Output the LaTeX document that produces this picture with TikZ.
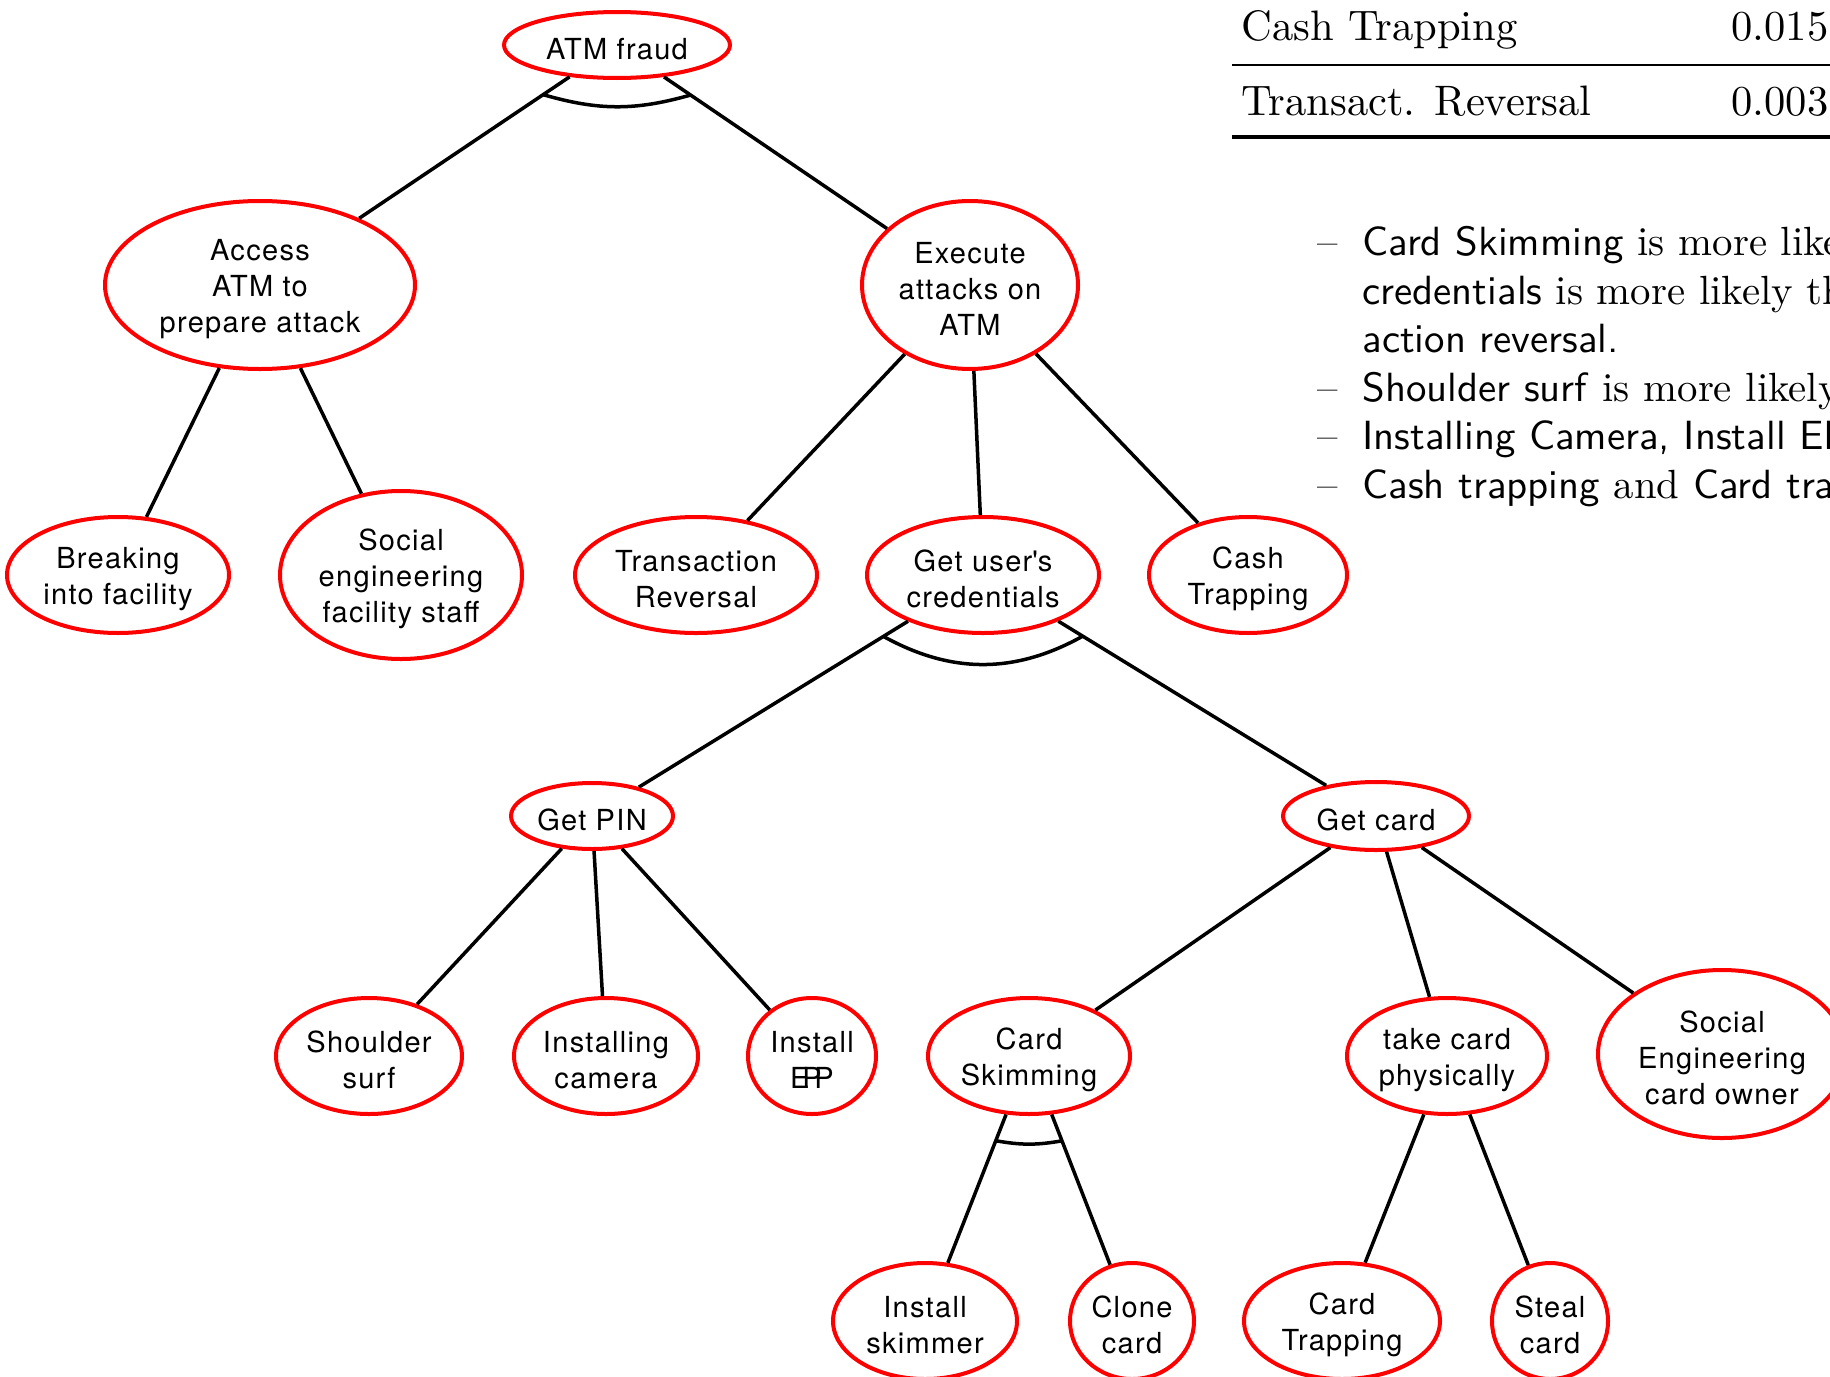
\documentclass[tikz,border=0pt]{standalone}
\usepackage{fontspec}
\usepackage{graphicx}
\usetikzlibrary{shapes.geometric,calc}
\newfontfamily\nodefont[LetterSpace=4.5]{TeX Gyre Heros}
% text of the notes: 10pt Latin Modern, enlarged
\newcommand{\bigtxt}[1]{\scalebox{2.04}{\fontsize{10}{12}\selectfont #1}}
% text of the table, a little larger
\newcommand{\tabtxt}[1]{\scalebox{2.13}{\fontsize{10}{12}\selectfont #1}}
\begin{document}
\begin{tikzpicture}[x=0.5pt,y=-0.5pt,
  goaltext/.style={align=center, inner sep=0pt, yshift=-2pt,
    font=\nodefont\fontsize{14.5}{18}\selectfont},
  goal/.style={ellipse, draw=red, line width=2pt, inner sep=0pt,
    label={[goaltext]center:#1}},
  rad/.style 2 args={minimum width=#1pt, minimum height=#2pt},
  edge/.style={line width=1.75pt, black},
  andarc/.style={line width=1.75pt, black},
  note/.style={anchor=base west, inner sep=0pt},
]
\useasboundingbox (0,0) rectangle (1830,1376);
\clip (0,0) rectangle (1830,1376);

% goals of the attack tree
\node[goal={ATM fraud}, rad={113}{33}] (atm) at (617,45) {};
\node[goal={Access\\ATM to\\prepare attack}, rad={155}{84}] (access) at (260,285) {};
\node[goal={Execute\\attacks on\\ATM}, rad={108}{84}] (execute) at (970,285) {};
\node[goal={Breaking\\into facility}, rad={111}{58}] (breaking) at (118,575) {};
\node[goal={Social\\engineering\\facility staff}, rad={121}{84}] (socfac) at (401,575) {};
\node[goal={Transaction\\Reversal}, rad={121}{58}] (transrev) at (696,575) {};
\node[goal={Get user\textquotesingle s\\credentials}, rad={116}{58}] (cred) at (983,575) {};
\node[goal={Cash\\Trapping}, rad={99}{58}] (cashtrap) at (1248,575) {};
\node[goal={Get PIN}, rad={81}{33}] (getpin) at (592,816) {};
\node[goal={Get card}, rad={93}{34}] (getcard) at (1376,816) {};
\node[goal={Shoulder\\surf}, rad={93}{58}] (shoulder) at (369,1056) {};
\node[goal={Installing\\camera}, rad={92}{58}] (instcam) at (606,1056) {};
\node[goal={Install\\E\kern-.25em P\kern-.25em P}, rad={64}{58}] (instepp) at (812,1056) {};
\node[goal={Card\\Skimming}, rad={101}{58}] (cardskim) at (1029,1056) {};
\node[goal={take card\\physically}, rad={100}{58}] (takecard) at (1447,1056) {};
\node[goal={Social\\Engineering\\card owner}, rad={124}{84}] (socown) at (1722,1054) {};
\node[goal={Install\\skimmer}, rad={92}{58}] (instskim) at (925,1321) {};
\node[goal={Clone\\card}, rad={62}{58}] (clone) at (1132,1321) {};
\node[goal={Card\\Trapping}, rad={98}{58}] (cardtrapping) at (1342,1321) {};
\node[goal={Steal\\card}, rad={58}{58}] (steal) at (1550,1321) {};

% refinements
\draw[edge] (atm) -- (access);
\draw[edge] (atm) -- (execute);
\draw[edge] (access) -- (breaking);
\draw[edge] (access) -- (socfac);
\draw[edge] (execute) -- (transrev);
\draw[edge] (execute) -- (cred);
\draw[edge] (execute) -- (cashtrap);
\draw[edge] (cred) -- (getpin);
\draw[edge] (cred) -- (getcard);
\draw[edge] (getpin) -- (shoulder);
\draw[edge] (getpin) -- (instcam);
\draw[edge] (getpin) -- (instepp);
\draw[edge] (getcard) -- (cardskim);
\draw[edge] (getcard) -- (takecard);
\draw[edge] (getcard) -- (socown);
\draw[edge] (cardskim) -- (instskim);
\draw[edge] (cardskim) -- (clone);
\draw[edge] (takecard) -- (cardtrapping);
\draw[edge] (takecard) -- (steal);

% conjunctive refinements
\draw[andarc] ($(atm)!44.5pt!(access)$) to[bend right=16] ($(atm)!44.5pt!(execute)$);
\draw[andarc] ($(cred)!58.5pt!(getpin)$) to[bend right=29] ($(cred)!58.5pt!(getcard)$);
\draw[andarc] ($(cardskim)!45.5pt!(instskim)$) to[bend right=10] ($(cardskim)!45.5pt!(clone)$);

% probability table
\node[note] (tabA) at (1241,40) {\tabtxt{Cash Trapping}};
\node[note] (tabAv) at (1731,40) {\tabtxt{0.015}};
\node[note] (tabB) at (1241,115) {\tabtxt{Transact. Reversal}};
\node[note] (tabBv) at (1731,115) {\tabtxt{0.003}};
\coordinate (midL) at (1232,65);
\coordinate (midR) at (1830,65);
\coordinate (botL) at (1232,137);
\coordinate (botR) at (1830,137);
\draw[line width=1pt] (midL) -- (midR);
\draw[line width=2pt] (botL) -- (botR);

% remarks
\node[note] (d1) at (1317,255) {\bigtxt{\textendash}};
\node[note] (r1) at (1362,255) {\bigtxt{\textsf{Card Skimming} is more likely}};
\node[note] (r2) at (1362,304) {\bigtxt{\textsf{credentials} is more likely than}};
\node[note] (r3) at (1362,352) {\bigtxt{\textsf{action reversal.}}};
\node[note] (d4) at (1317,401) {\bigtxt{\textendash}};
\node[note] (r4) at (1362,401) {\bigtxt{\textsf{Shoulder surf} is more likely}};
\node[note] (d5) at (1317,449) {\bigtxt{\textendash}};
\node[note] (r5) at (1362,449) {\bigtxt{\textsf{Installing Camera, Install EPP}}};
\node[note] (d6) at (1317,498) {\bigtxt{\textendash}};
\node[note] (r6) at (1362,498) {\bigtxt{\textsf{Cash trapping} and \textsf{Card trapping}}};
\end{tikzpicture}
\end{document}
